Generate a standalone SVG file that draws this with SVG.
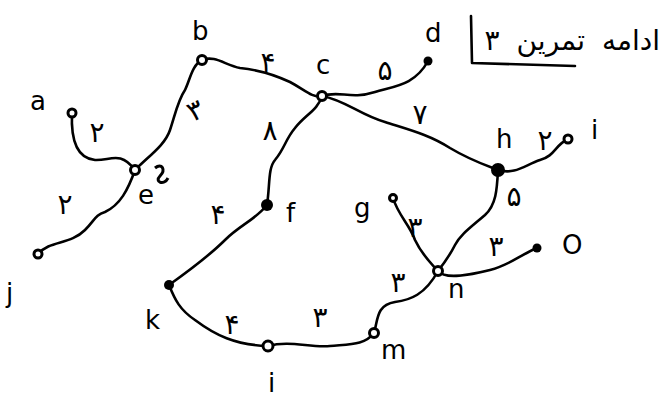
<svg xmlns="http://www.w3.org/2000/svg" width="665" height="406" viewBox="0 0 665 406">
<style>
.e{fill:none;stroke:#000;stroke-width:2.6;stroke-linecap:round;stroke-linejoin:round}
.ring{fill:#fff;stroke:#000;stroke-width:3}
.dot{fill:#000}
.lbl{font-family:"DejaVu Sans",sans-serif;font-size:26px;fill:#000}
.w{font-family:"DejaVu Sans",sans-serif;font-size:28px;fill:#000;text-anchor:middle}
</style>
<rect width="665" height="406" fill="#fff"/>
<g id="title">
<path class="e" d="M471,16 L472,63 L575,66"/>
<text x="660" y="50" direction="rtl" text-anchor="start" word-spacing="8" style="font-family:'DejaVu Sans',sans-serif;font-size:28px">ادامه تمرین ۳</text>
</g>
<g id="connectors">
<path class="e" d="M72,113 C71,135 74,158 95,160 C110,161 120,150 135,170"/>
<path class="e" d="M38,254 C50,240 70,245 85,230 C95,220 95,215 105,212 C120,205 128,190 135,170"/>
<path class="e" d="M135,170 C150,155 165,145 170,130 C175,115 178,100 185,90 C190,80 192,65 202,60"/>
<path class="e" d="M202,60 C215,55 225,65 240,68 C260,70 275,75 290,82 C305,90 312,98 322,96"/>
<path class="e" d="M322,96 C340,90 350,100 375,92 C395,86 415,85 428,61"/>
<path class="e" d="M322,96 C345,100 360,115 385,122 C410,130 430,135 450,148 C470,160 485,165 498,170"/>
<path class="e" d="M322,96 C318,110 305,115 295,128 C285,140 285,148 275,160 C268,168 270,185 267,205"/>
<path class="e" d="M267,205 C255,220 240,225 225,240 C210,255 190,270 169,285"/>
<path class="e" d="M169,285 C175,300 180,310 195,320 C215,335 235,345 268,346"/>
<path class="e" d="M268,346 C290,340 310,348 330,346 C350,344 365,345 374,333"/>
<path class="e" d="M374,333 C378,320 376,305 395,302 C410,300 425,295 438,271"/>
<path class="e" d="M393,198 C398,215 410,225 415,240 C422,255 430,262 438,271"/>
<path class="e" d="M498,170 C497,190 496,205 485,215 C470,228 460,235 455,245 C450,255 445,262 438,271"/>
<path class="e" d="M438,271 C445,280 470,275 490,270 C510,265 520,255 537,248"/>
<path class="e" d="M498,170 C515,175 525,165 540,160 C555,156 555,145 568,139"/>
<path d="M155,168 C162,162 166,170 160,176 C154,182 164,186 168,178" fill="none" stroke="#000" stroke-width="3"/>
</g>
<g id="weights">
<text class="w" x="97" y="142">۲</text>
<text class="w" x="65" y="214">۲</text>
<text class="w" x="195" y="120" transform="rotate(-25 195 110)">۳</text>
<text class="w" x="268" y="72">۴</text>
<text class="w" x="385" y="80">۵</text>
<text class="w" x="420" y="124">۷</text>
<text class="w" x="270" y="140">۸</text>
<text class="w" x="218" y="224">۴</text>
<text class="w" x="545" y="150">۲</text>
<text class="w" x="514" y="206">۵</text>
<text class="w" x="415" y="237">۳</text>
<text class="w" x="496" y="256">۳</text>
<text class="w" x="398" y="292">۳</text>
<text class="w" x="232" y="334">۴</text>
<text class="w" x="320" y="327">۳</text>
</g>
<g id="a"><circle class="ring" cx="72" cy="113" r="4"/><text class="lbl" x="30" y="110">a</text></g>
<g id="b"><circle class="ring" cx="202" cy="60" r="4.5"/><text class="lbl" x="192" y="40">b</text></g>
<g id="c"><circle class="ring" cx="322" cy="96" r="4.5"/><text class="lbl" x="316" y="74">c</text></g>
<g id="d"><circle class="dot" cx="428" cy="61" r="4.5"/><text class="lbl" x="425" y="42">d</text></g>
<g id="e"><circle class="ring" cx="135" cy="170" r="4.5"/><text class="lbl" x="138" y="204">e</text></g>
<g id="f"><circle class="dot" cx="267" cy="205" r="6"/><text class="lbl" x="286" y="222">f</text></g>
<g id="g"><circle class="ring" cx="393" cy="198" r="3.5"/><text class="lbl" x="354" y="217">g</text></g>
<g id="h"><circle class="dot" cx="498" cy="170" r="7"/><text class="lbl" x="496" y="148">h</text></g>
<g id="i"><circle class="ring" cx="568" cy="139" r="4"/><text class="lbl" x="591" y="139">i</text></g>
<g id="j"><circle class="ring" cx="38" cy="254" r="4"/><text class="lbl" x="6" y="302">j</text></g>
<g id="k"><circle class="dot" cx="169" cy="285" r="5"/><text class="lbl" x="145" y="329">k</text></g>
<g id="l"><circle class="ring" cx="268" cy="346" r="5"/><text class="lbl" x="268" y="392">i</text></g>
<g id="m"><circle class="ring" cx="374" cy="333" r="4.5"/><text class="lbl" x="381" y="359">m</text></g>
<g id="n"><circle class="ring" cx="438" cy="271" r="4.5"/><text class="lbl" x="448" y="298">n</text></g>
<g id="o"><circle class="dot" cx="537" cy="248" r="4.5"/><text class="lbl" x="562" y="254">O</text></g>
</svg>
